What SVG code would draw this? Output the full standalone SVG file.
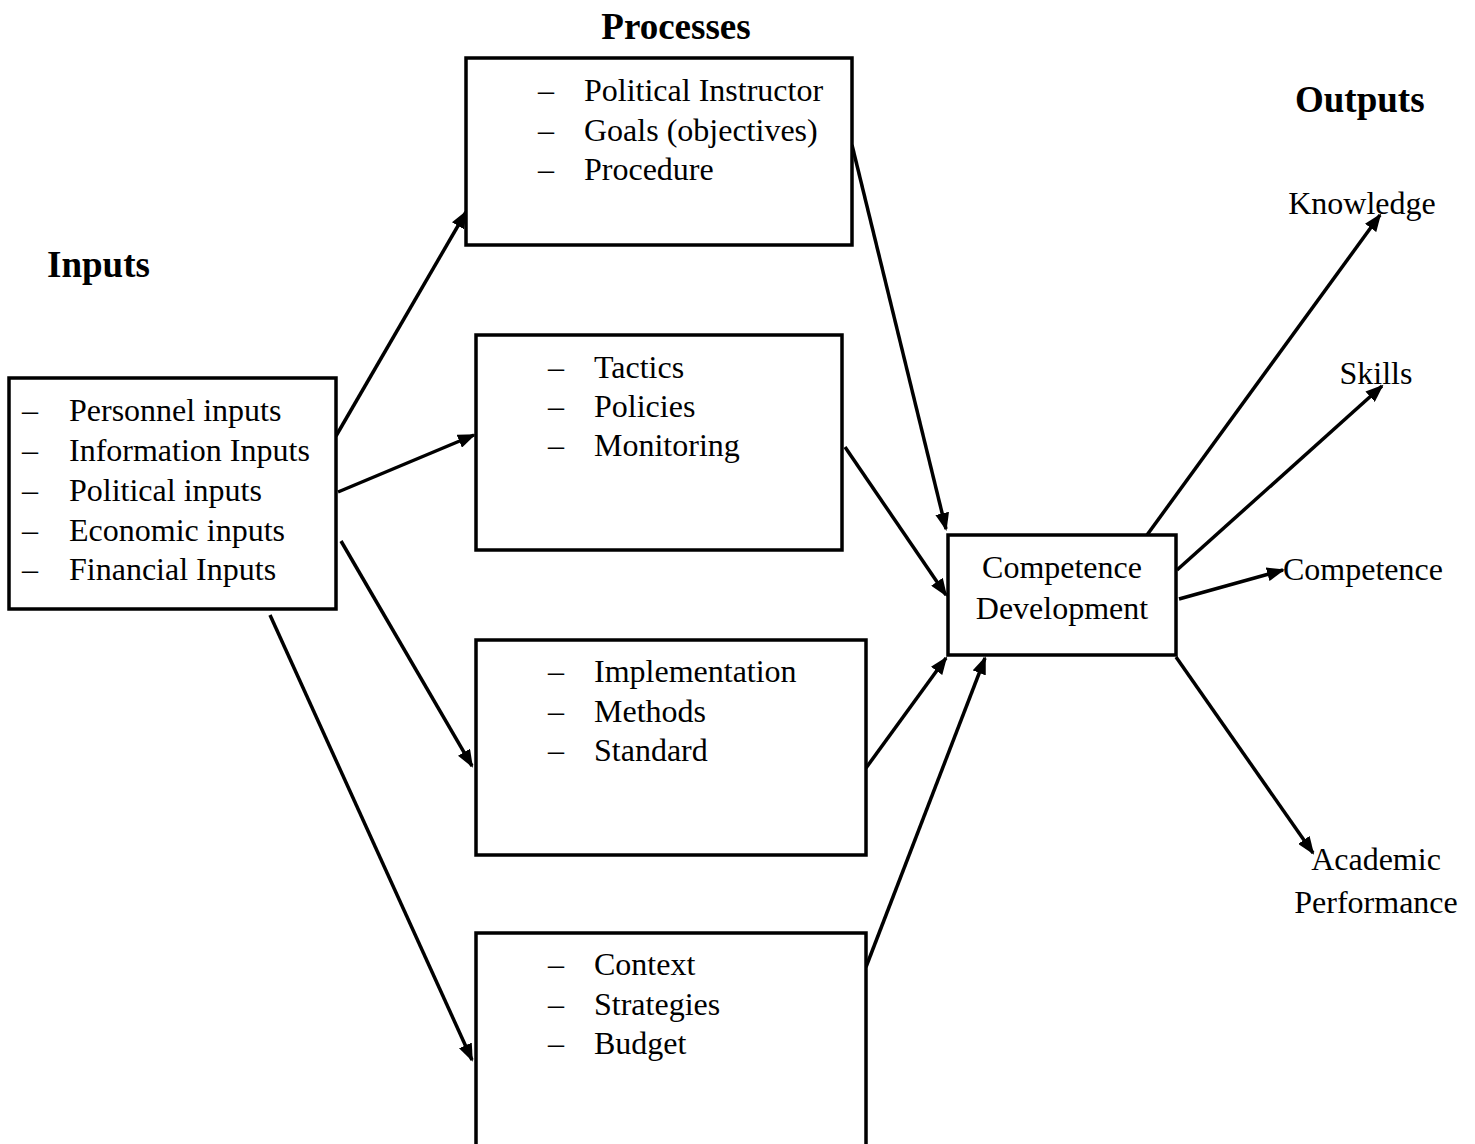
<svg xmlns="http://www.w3.org/2000/svg" width="1475" height="1144" viewBox="0 0 1475 1144">
<style>
text{font-family:"Liberation Serif","Times New Roman",serif;font-size:32px;fill:#000}
.t{font-weight:bold;font-size:37px}
.box{fill:#fff;stroke:#000;stroke-width:3.5}
.c{fill:none;stroke:#000;stroke-width:3.5;marker-end:url(#ah)}
.m{text-anchor:middle}
</style>
<defs>
<marker id="ah" viewBox="0 0 18 14" refX="16" refY="7" markerWidth="18" markerHeight="14" markerUnits="userSpaceOnUse" orient="auto">
<path d="M0,0 L18,7 L0,14 z" fill="#000"/>
</marker>
</defs>
<rect width="1475" height="1144" fill="#fff"/>
<text class="t m" x="676" y="39">Processes</text>
<text class="t" x="47" y="277">Inputs</text>
<text class="t" x="1295" y="112">Outputs</text>
<g id="connectors">
<line class="c" x1="336" y1="436" x2="466" y2="212"/>
<line class="c" x1="338" y1="492" x2="474" y2="435"/>
<line class="c" x1="341" y1="541" x2="472" y2="766"/>
<line class="c" x1="270" y1="615" x2="472" y2="1060"/>
<line class="c" x1="852" y1="145" x2="946" y2="529"/>
<line class="c" x1="845" y1="447" x2="946" y2="595"/>
<line class="c" x1="866" y1="768" x2="946" y2="658"/>
<line class="c" x1="866" y1="967" x2="985" y2="658"/>
<line class="c" x1="1147" y1="535" x2="1380" y2="215"/>
<line class="c" x1="1177" y1="570" x2="1382" y2="386"/>
<line class="c" x1="1179" y1="599" x2="1283" y2="570"/>
<line class="c" x1="1176" y1="657" x2="1313" y2="853"/>
</g>
<g id="inputs">
<rect class="box" x="9" y="378" width="327" height="231"/>
<text x="22" y="421">–</text><text x="69" y="421">Personnel inputs</text>
<text x="22" y="461">–</text><text x="69" y="461">Information Inputs</text>
<text x="22" y="501">–</text><text x="69" y="501">Political inputs</text>
<text x="22" y="541">–</text><text x="69" y="541">Economic inputs</text>
<text x="22" y="580">–</text><text x="69" y="580">Financial Inputs</text>
</g>
<g id="process1">
<rect class="box" x="466" y="58" width="386" height="187"/>
<text x="538" y="101">–</text><text x="584" y="101">Political Instructor</text>
<text x="538" y="141">–</text><text x="584" y="141">Goals (objectives)</text>
<text x="538" y="180">–</text><text x="584" y="180">Procedure</text>
</g>
<g id="process2">
<rect class="box" x="476" y="335" width="366" height="215"/>
<text x="548" y="378">–</text><text x="594" y="378">Tactics</text>
<text x="548" y="417">–</text><text x="594" y="417">Policies</text>
<text x="548" y="456">–</text><text x="594" y="456">Monitoring</text>
</g>
<g id="process3">
<rect class="box" x="476" y="640" width="390" height="215"/>
<text x="548" y="682">–</text><text x="594" y="682">Implementation</text>
<text x="548" y="722">–</text><text x="594" y="722">Methods</text>
<text x="548" y="761">–</text><text x="594" y="761">Standard</text>
</g>
<g id="process4">
<rect class="box" x="476" y="933" width="390" height="220"/>
<text x="548" y="975">–</text><text x="594" y="975">Context</text>
<text x="548" y="1015">–</text><text x="594" y="1015">Strategies</text>
<text x="548" y="1054">–</text><text x="594" y="1054">Budget</text>
</g>
<g id="competence-development">
<rect class="box" x="948" y="535" width="228" height="120"/>
<text class="m" x="1062" y="578">Competence</text>
<text class="m" x="1062" y="619">Development</text>
</g>
<g id="out-knowledge"><text class="m" x="1362" y="214">Knowledge</text></g>
<g id="out-skills"><text class="m" x="1376" y="384">Skills</text></g>
<g id="out-competence"><text x="1283" y="580">Competence</text></g>
<g id="out-academic"><text class="m" x="1376" y="870">Academic</text><text class="m" x="1376" y="913">Performance</text></g>
</svg>
